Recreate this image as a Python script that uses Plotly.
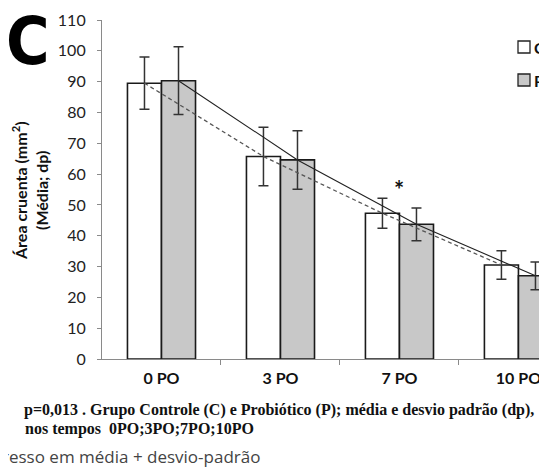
import plotly.graph_objects as go

categories = ["0 PO", "3 PO", "7 PO", "10 PO"]
c_mean = [89.5, 65.7, 47.3, 30.5]
c_sd = [8.5, 9.5, 4.9, 4.6]
p_mean = [90.3, 64.6, 43.7, 27.0]
p_sd = [11.0, 9.5, 5.3, 4.5]
y_ticks = list(range(0, 111, 10))
series_names = ["C", "P"]

BAR_W = 0.286
idx = list(range(len(categories)))
c_x = [i - BAR_W / 2 for i in idx]
p_x = [i + BAR_W / 2 for i in idx]

OFF = 8  # default page body margin
W, H = 547 - OFF, 469 - OFF
ML, MR, MT, MB = 102 - OFF, 0, 20 - OFF, 110
PW, PH = W - ML - MR, H - MT - MB


def px(X):
    return (X - OFF - ML) / PW


def py(Y):
    return (H - MB - (Y - OFF)) / PH


fig = go.Figure()
fig.add_trace(go.Bar(
    x=c_x, y=c_mean, width=BAR_W, name=series_names[0],
    marker=dict(color="white", line=dict(color="#1a1a1a", width=1.6)),
    error_y=dict(type="data", array=c_sd, visible=True, color="#333333", thickness=1.5, width=5),
    showlegend=False,
))
fig.add_trace(go.Bar(
    x=p_x, y=p_mean, width=BAR_W, name=series_names[1],
    marker=dict(color="#c8c8c8", line=dict(color="#1a1a1a", width=1.6)),
    error_y=dict(type="data", array=p_sd, visible=True, color="#333333", thickness=1.5, width=5),
    showlegend=False,
))
fig.add_trace(go.Scatter(
    x=c_x, y=c_mean, mode="lines", line=dict(color="#555555", width=1.3, dash="4px,3px"),
    showlegend=False, hoverinfo="skip",
))
fig.add_trace(go.Scatter(
    x=p_x, y=p_mean, mode="lines", line=dict(color="#222222", width=1.1),
    showlegend=False, hoverinfo="skip",
))

fig.update_layout(
    width=W, height=H,
    margin=dict(l=ML, r=MR, t=MT, b=MB, pad=0),
    paper_bgcolor="white", plot_bgcolor="white",
    barmode="overlay",
    font=dict(family="Lato", color="#222222"),
    xaxis=dict(
        range=[-0.5, 3.24], tickvals=idx, ticktext=categories,
        ticks="", showline=True, linecolor="#8a8a8a", linewidth=1.2,
        showgrid=False, zeroline=False,
        tickfont=dict(family="Lato", size=16, color="#111111", weight="bold"),
        ticklabelstandoff=5,
        minor=dict(tickvals=[0.5, 1.5, 2.5], ticks="outside", ticklen=5, tickcolor="#8a8a8a", tickwidth=1),
    ),
    yaxis=dict(
        range=[0, 110], tickvals=y_ticks, ticks="outside", ticklen=4,
        tickcolor="#8a8a8a", showline=True, linecolor="#8a8a8a", linewidth=1.2,
        showgrid=False, zeroline=False,
        tickfont=dict(family="Lato", size=16, color="#222222"),
        ticklabelstandoff=8,
    ),
)

ann = []
ann.append(dict(text="<b>C</b>", x=px(28), y=py(41), xref="paper", yref="paper",
                showarrow=False, xanchor="center", yanchor="middle",
                font=dict(family="Liberation Sans Narrow, DejaVu Sans Condensed, Liberation Sans", size=66, color="black")))
ann.append(dict(text="<b>Área cruenta (mm<sup>2</sup>)</b>", x=px(19), y=py(191), xref="paper", yref="paper",
                showarrow=False, xanchor="center", yanchor="middle", textangle=-90,
                font=dict(family="Lato", size=16, color="#111111")))
ann.append(dict(text="<b>(Média; dp)</b>", x=px(41), y=py(191), xref="paper", yref="paper",
                showarrow=False, xanchor="center", yanchor="middle", textangle=-90,
                font=dict(family="Lato", size=16, color="#111111")))
ann.append(dict(text="<b>*</b>", x=2, y=55.0, xref="x", yref="y",
                showarrow=False, xanchor="center", yanchor="middle",
                font=dict(family="Lato", size=24, color="#111111")))
for name, yc in zip(series_names, [47, 80]):
    ann.append(dict(text="<b>%s</b>" % name, x=px(532), y=py(yc), xref="paper", yref="paper",
                    showarrow=False, xanchor="left", yanchor="middle",
                    font=dict(family="Lato", size=16, color="#111111")))
ann.append(dict(text="<b>p=0,013 . Grupo Controle (C) e Probiótico (P); média e desvio padrão (dp),</b>",
                x=px(22), y=py(410), xref="paper", yref="paper", showarrow=False,
                xanchor="left", yanchor="middle",
                font=dict(family="Liberation Serif", size=16, color="#111111")))
ann.append(dict(text="<b>nos tempos  0PO;3PO;7PO;10PO</b>",
                x=px(23), y=py(429), xref="paper", yref="paper", showarrow=False,
                xanchor="left", yanchor="middle",
                font=dict(family="Liberation Serif", size=16, color="#111111")))
ann.append(dict(text="resso em média + desvio-padrão",
                x=px(0), y=py(456), xref="paper", yref="paper", showarrow=False,
                xanchor="left", yanchor="middle",
                font=dict(family="Open Sans", size=17, color="#444444")))
fig.update_layout(annotations=ann)

shapes = []
for fill, yc in zip(["white", "#c8c8c8"], [47, 80]):
    shapes.append(dict(type="rect", xref="paper", yref="paper",
                       x0=px(518), x1=px(530), y0=py(yc + 6), y1=py(yc - 6),
                       fillcolor=fill, line=dict(color="#222222", width=1.3)))
fig.update_layout(shapes=shapes)

fig.write_html("out.html")
